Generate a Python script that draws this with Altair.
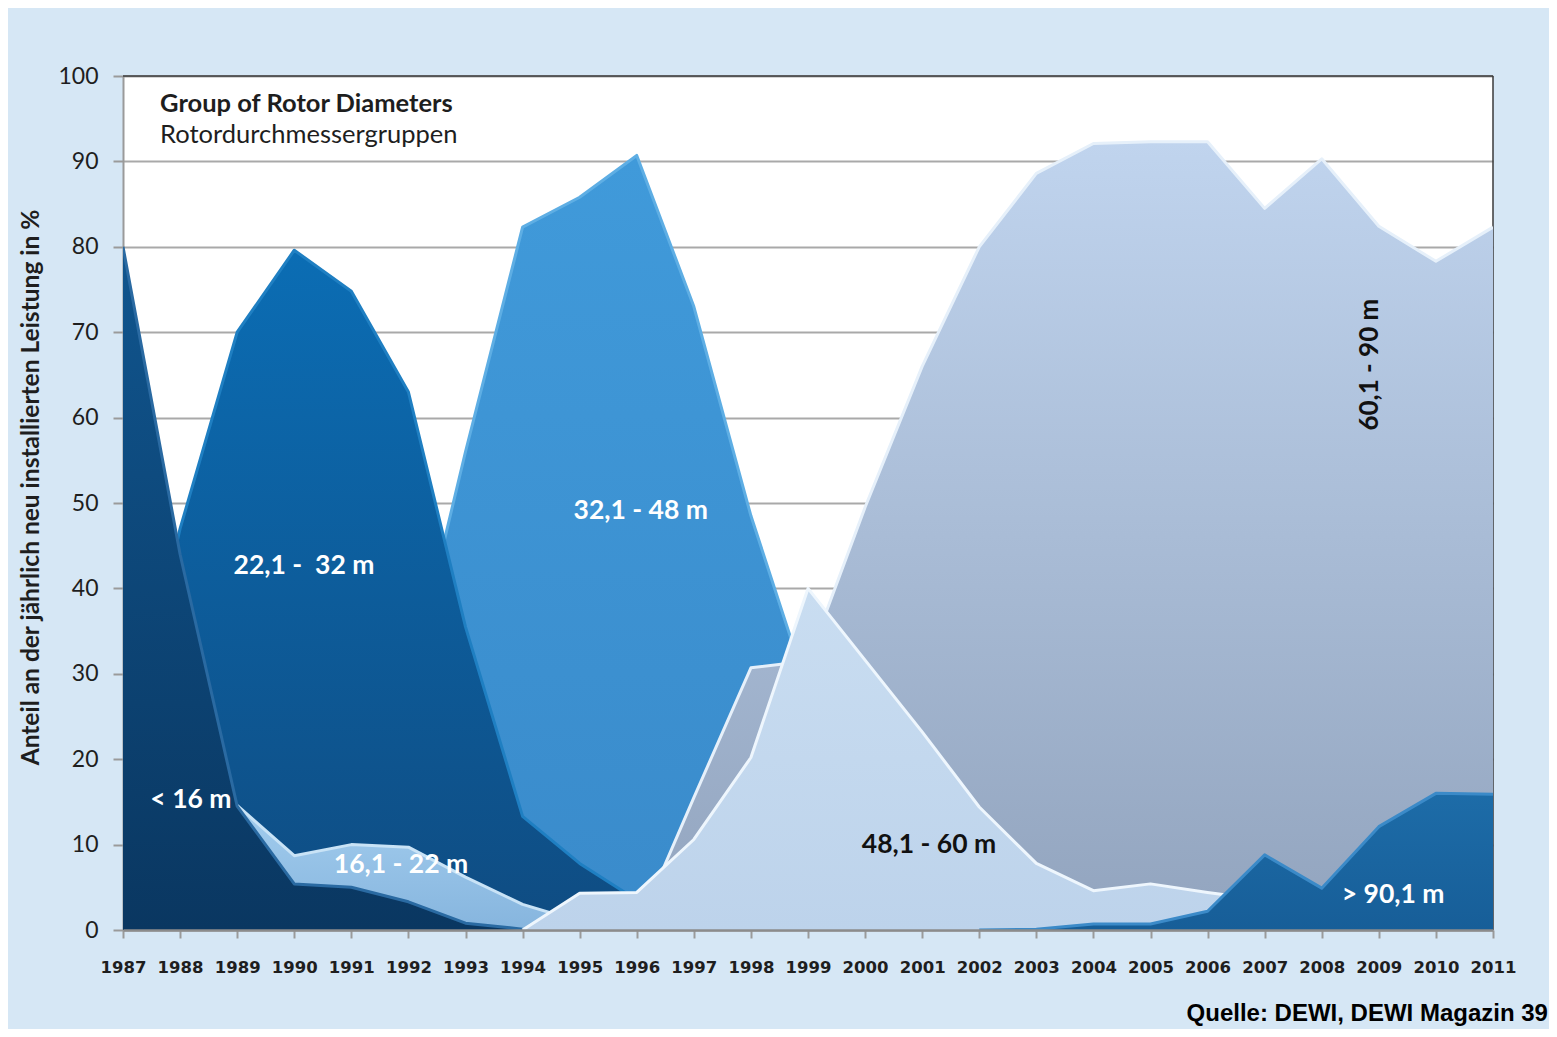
import altair as alt
import pandas as pd

years = list(range(1987, 2012))

# shares (%) per rotor-diameter group, 1987..2011 (None = not drawn)
s_lt16 = [80, 44, 14.5, 5.4, 5.0, 3.3, 0.8, 0.1, 0] + [None] * 16
s_16_22 = [4, 11, 14.6, 8.7, 10.0, 9.7, 6.2, 3.0, 1.0, 0] + [None] * 15
s_22_32 = [18, 47, 70, 79.6, 74.8, 63, 35.5, 13.3, 7.8, 3.5, 1.0, 0] + [None] * 13
s_32_48 = [None, None, 0, 1.5, 5, 28, 56, 82.3, 85.8, 90.7, 73, 48.5, 28, 12, 3, 0.5, 0] + [None] * 8
s_48_60 = [None] * 7 + [0, 4.3, 4.4, 10.6, 20.2, 40, 31.6, 23.2, 14.4, 7.8, 4.6, 5.4, 4.4, 3.5, 2.5, 1.5, 1.0, 0.8]
s_60_90 = [None] * 9 + [0, 15.5, 30.7, 31.5, 49.5, 66, 80, 88.6, 92.1, 92.3, 92.3, 84.5, 90.3, 82.4, 78.3, 82.3]
s_gt90 = [None] * 15 + [0, 0.1, 0.7, 0.7, 2.2, 8.8, 4.9, 12.1, 16.0, 15.9]

# drawing order back -> front: (values, gradient top, gradient bottom, edge colour)
series = [
    (s_32_48, "#409ada", "#3a8bcb", "#5eaee4"),
    (s_22_32, "#0b6db4", "#0f4c82", "#1f7fc2"),
    (s_16_22, "#a3cdee", "#86b5de", "#c9e3f6"),
    (s_lt16, "#10558e", "#0a3761", "#2a6aa2"),
    (s_60_90, "#c0d4ee", "#92a4be", "#e6f0fa"),
    (s_48_60, "#c9ddf1", "#bdd3eb", "#eef6fd"),
    (s_gt90, "#1d6ca8", "#175e98", "#3b8ac8"),
]

label_white = ["22,1 -\u00a0 32 m", "32,1 - 48 m", "< 16 m", "16,1 - 22 m", "> 90,1 m"]
label_white_x = [1990.17, 1996.07, 1988.19, 1991.87, 2009.25]
label_white_y = [42.6, 49.1, 15.2, 7.6, 4.1]
label_black = ["48,1 - 60 m"]
label_black_x = [2001.12]
label_black_y = [10.0]
label_rot = ["60,1 - 90 m"]
label_rot_x = [2008.85]
label_rot_y = [66.2]

y_ticks = list(range(0, 101, 10))

x_enc = alt.X(
    "year:Q",
    scale=alt.Scale(domain=[1987, 2011], nice=False, zero=False),
    axis=alt.Axis(
        values=years, format="d", title=None, grid=False,
        labelFont="DejaVu Sans", labelFontWeight="bold", labelFontSize=16.5,
        labelColor="#1e1e1e", labelFlush=False, labelOverlap=False,
        labelPadding=21, tickSize=8, tickWidth=2, tickColor="#9a9a9a",
        domainColor="#8c8c8c", domainWidth=2.5, zindex=1,
    ),
)
y_enc = alt.Y(
    "value:Q",
    scale=alt.Scale(domain=[0, 100], nice=False),
    axis=alt.Axis(
        values=y_ticks, title="Anteil an der jährlich neu installierten Leistung in %",
        titleFont="Lato", titleFontSize=24.5, titleFontWeight="bold", titleColor="#1e1e1e",
        titleX=-92, titleY=411, titleBaseline="middle", titleAngle=270,
        labelFont="Lato", labelFontSize=23, labelColor="#1e1e1e", labelFlush=False,
        labelPadding=15, tickSize=10, tickWidth=2, tickColor="#9a9a9a",
        domainColor="#9a9a9a", domainWidth=2,
        grid=True, gridColor="#a9a9a9", gridWidth=2.2,
    ),
)

layers = []
# frame: top and right border
layers.append(alt.Chart(pd.DataFrame({"v": [100]})).mark_rule(color="#3a3a3a", strokeWidth=1.5).encode(y=alt.datum(100)))
layers.append(alt.Chart(pd.DataFrame({"v": [2011]})).mark_rule(color="#3a3a3a", strokeWidth=1.5).encode(x=alt.datum(2011)))

for vals, c_top, c_bot, edge in series:
    df = pd.DataFrame({"year": years, "value": vals}).dropna()
    base = alt.Chart(df)
    grad = alt.Gradient(
        gradient="linear",
        stops=[alt.GradientStop(color=c_top, offset=0), alt.GradientStop(color=c_bot, offset=1)],
        x1=0, x2=0, y1=0, y2=1,
    )
    layers.append(base.mark_area(color=grad, interpolate="linear", clip=True).encode(x=x_enc, y=y_enc))
    layers.append(base.mark_line(color=edge, strokeWidth=3, strokeJoin="round", clip=True).encode(x=x_enc, y=y_enc))

df_w = pd.DataFrame({"year": label_white_x, "value": label_white_y, "t": label_white})
df_b = pd.DataFrame({"year": label_black_x, "value": label_black_y, "t": label_black})
df_r = pd.DataFrame({"year": label_rot_x, "value": label_rot_y, "t": label_rot})
layers.append(alt.Chart(df_w).mark_text(font="Lato", fontWeight="bold", fontSize=26.5, color="white", align="center", baseline="middle").encode(x=x_enc, y=y_enc, text="t:N"))
layers.append(alt.Chart(df_b).mark_text(font="Lato", fontWeight="bold", fontSize=26.5, color="#111111", align="center", baseline="middle").encode(x=x_enc, y=y_enc, text="t:N"))
layers.append(alt.Chart(df_r).mark_text(font="Lato", fontWeight="bold", fontSize=26, color="#111111", align="center", baseline="middle", angle=270).encode(x=x_enc, y=y_enc, text="t:N"))

df_t1 = pd.DataFrame({"year": [1987.65], "value": [95.8], "t": ["Group of Rotor Diameters"]})
df_t2 = pd.DataFrame({"year": [1987.65], "value": [92.2], "t": ["Rotordurchmessergruppen"]})
layers.append(alt.Chart(df_t1).mark_text(font="Lato", fontWeight="bold", fontSize=25.5, color="#1e1e1e", align="left", baseline="alphabetic").encode(x=x_enc, y=y_enc, text="t:N"))
layers.append(alt.Chart(df_t2).mark_text(font="Lato", fontSize=25.5, color="#1e1e1e", align="left", baseline="alphabetic").encode(x=x_enc, y=y_enc, text="t:N"))

chart = alt.layer(*layers).properties(
    width=1370,
    height=854,
    padding={"left": 115, "top": 68, "right": 56, "bottom": 99},
    autosize=alt.AutoSizeParams(type="none"),
    background="#d6e7f5",
    title=alt.TitleParams(
        "Quelle: DEWI, DEWI Magazin 39", orient="bottom", anchor="end",
        font="Liberation Sans", fontSize=24, fontWeight="bold", color="black",
        dx=32, offset=26,
    ),
).configure_view(stroke=None, fill="white")

chart.save("out.html", embed_options={"renderer": "svg", "actions": False})
